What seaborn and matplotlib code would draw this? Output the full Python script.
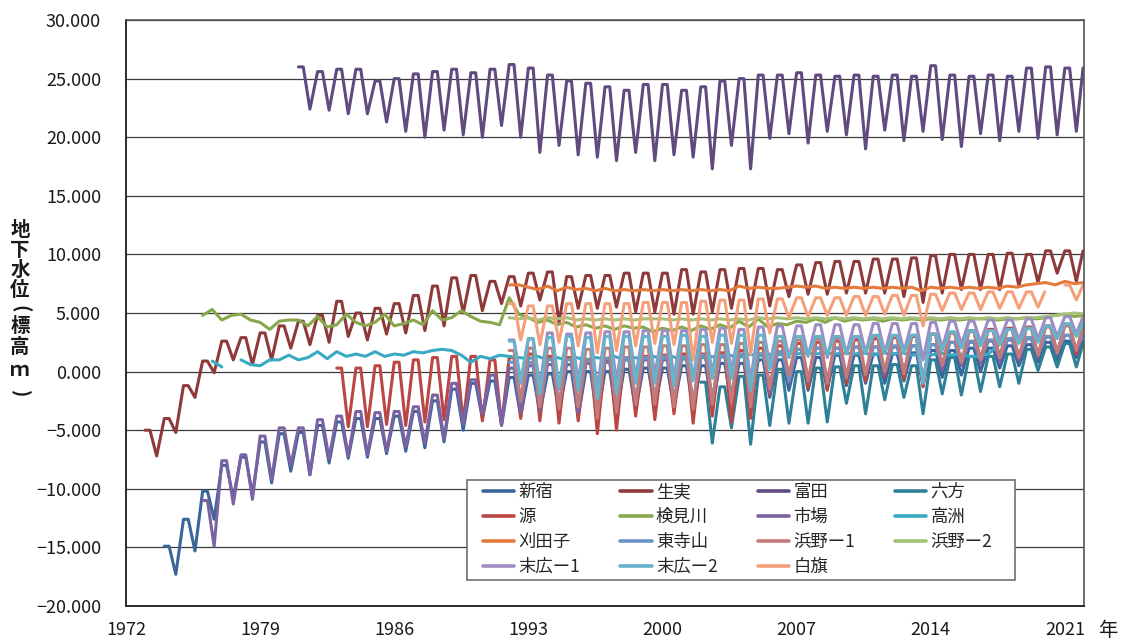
import numpy as np
import pandas as pd
import matplotlib
matplotlib.use("Agg")
import matplotlib.pyplot as plt
import seaborn as sns
from matplotlib.lines import Line2D
from matplotlib.patches import Rectangle

# ---------------- data ----------------
stations = ["新宿", "生実", "富田", "六方", "源", "検見川", "市場", "高洲",
            "刈田子", "東寺山", "浜野ー1", "浜野ー2", "末広ー1", "末広ー2", "白旗"]
colors = ["#3B6699", "#8E3A3A", "#5F4B7F", "#2E8096", "#BA4744", "#86A84B",
          "#7B62A3", "#3AAAC2", "#E47B3C", "#6C93C6", "#C47A78", "#A3C277",
          "#9E8DC3", "#66B3CB", "#F4A07A"]

x_ticks = [1972, 1979, 1986, 1993, 2000, 2007, 2014, 2021]
y_ticks = [-20, -15, -10, -5, 0, 5, 10, 15, 20, 25, 30]

# seasonal wells: first year, annual highs, annual lows
shinjuku_start = 1974
shinjuku_hi = [-14.9, -12.6, -10.2, -8.0, -7.3, -6.0, -5.3, -5.2, -4.6, -4.3, -4.0, -4.0, -3.8, -3.4,
               -2.5, -1.5, -1.0, -0.8, -0.5, -0.3, -0.2, 0.0, 0.0, 0.0, 0.2, 0.3, 0.3, 0.5, 0.5,
               0.7, 0.7, 1.0, 1.0, 1.2, 1.2, 1.4, 1.4, 1.5, 1.5, 1.6, 1.8, 1.8, 2.0, 2.0, 2.2, 2.3, 2.5, 2.6]
shinjuku_lo = [-17.3, -15.3, -12.6, -10.8, -10.5, -9.5, -8.5, -8.8, -7.8, -7.4, -7.3, -7.0, -6.8, -6.5,
               -6.0, -5.0, -4.0, -4.6, -3.8, -3.5, -3.3, -3.8, -4.0, -3.6, -3.2, -3.0, -3.0, -3.2, -3.0,
               -2.6, -3.0, -2.2, -1.6, -1.6, -1.5, -1.2, -1.0, -1.0, -0.8, -1.2, -0.5, -0.3, 0.0, 0.3,
               0.5, 0.8, 1.0, 1.2]

oyumi_start = 1973
oyumi_hi = [-5.0, -4.0, -1.2, 0.9, 2.6, 2.9, 3.3, 3.9, 4.3, 4.8, 6.0, 5.0, 5.4, 5.8, 6.5, 7.3, 8.0,
            8.2, 7.7, 8.1, 8.4, 8.5, 8.1, 8.2, 8.2, 8.4, 8.4, 8.4, 8.7, 8.5, 8.7, 8.8, 8.8, 8.7, 9.1,
            9.3, 9.4, 9.4, 9.6, 9.6, 9.7, 9.9, 10.0, 10.0, 10.0, 10.1, 10.0, 10.3, 10.3]
oyumi_lo = [-7.2, -5.2, -2.2, -0.1, 1.0, 0.6, 1.0, 2.0, 2.3, 2.5, 3.0, 2.7, 3.2, 3.3, 3.5, 3.9, 5.0,
            5.2, 5.8, 5.6, 6.1, 4.2, 5.4, 5.4, 5.5, 5.1, 5.1, 4.9, 4.9, 5.1, 5.4, 5.4, 5.6, 6.4, 6.6,
            6.6, 6.7, 6.7, 6.7, 6.4, 5.9, 6.7, 7.0, 7.0, 7.0, 7.3, 7.6, 8.4, 7.7]

tomita_start = 1981
tomita_hi = [26.0, 25.6, 25.8, 25.8, 24.8, 25.0, 25.4, 25.6, 25.8, 25.5, 25.8, 26.2, 25.9, 25.3,
             24.8, 24.6, 24.3, 24.0, 24.5, 24.5, 24.0, 24.3, 24.8, 25.0, 25.3, 25.3, 25.5, 25.3,
             25.2, 25.3, 25.2, 25.3, 25.2, 26.1, 25.3, 25.2, 25.3, 25.2, 25.9, 26.0, 25.9]
tomita_lo = [22.4, 22.3, 22.0, 22.0, 21.3, 20.5, 20.0, 20.6, 20.2, 20.0, 21.0, 20.0, 18.7, 19.3,
             18.5, 18.3, 18.0, 18.7, 18.0, 18.5, 18.3, 17.3, 19.3, 17.3, 19.9, 20.3, 19.5, 20.5,
             20.2, 19.0, 20.6, 19.7, 20.5, 19.8, 19.2, 20.3, 19.7, 20.5, 19.9, 20.2, 20.5]

roppo_start = 2002
roppo_hi = [-0.9, -1.3, -0.4, -0.3, 0.2, 0.0, 0.3, 0.4, 0.5, 0.5, 0.6, 0.5, 1.0, 1.2, 1.3, 1.3,
            1.5, 1.9, 2.1, 2.4]
roppo_lo = [-6.1, -4.8, -6.2, -4.6, -4.4, -4.4, -4.3, -2.7, -3.6, -2.4, -2.2, -3.6, -1.9, -2.0,
            -1.7, -1.3, -1.0, 0.1, 0.4, 0.4]

minamoto_start = 1983
minamoto_hi = [0.3, 0.3, 0.5, 0.8, 1.0, 1.2, 1.3, 1.3, 1.0, 1.2, 1.5, 1.3, 1.2, 1.0, 1.0, 1.2, 1.3,
               1.4, 1.5, 1.5, 1.6, 1.8, 2.0, 2.2, 2.4, 2.5, 2.6, 2.7, 2.8, 2.9, 3.0, 3.2, 3.3, 3.5,
               3.6, 3.7, 3.8, 3.9, 4.0]
minamoto_lo = [-4.7, -4.7, -4.5, -4.6, -4.3, -4.1, -4.3, -4.2, -4.5, -4.0, -4.2, -4.4, -4.2, -5.3,
               -5.0, -3.8, -4.1, -3.6, -4.4, -3.8, -4.3, -4.0, -2.0, -0.7, -1.4, -1.6, -1.0, -0.8,
               -0.4, -0.6, -1.3, 0.2, 0.6, 1.0, 1.2, 1.0, 1.3, 1.6, 1.5]

ichiba_start = 1976
ichiba_hi = [-11.0, -7.6, -7.1, -5.5, -4.8, -4.8, -4.1, -3.8, -3.4, -3.5, -3.4, -3.0, -2.0, -1.0,
             -0.7, -0.3, 0.3, 0.5, 0.6, 0.6, 0.7, 0.8, 1.0, 1.0, 1.0, 1.1, 1.2, 1.3, 1.4, 1.5, 1.7,
             1.9, 2.0, 2.0, 2.1, 2.1, 2.1, 2.2, 2.3, 2.5, 2.5, 2.6, 2.7, 2.8, 3.0, 3.1]
ichiba_lo = [-14.9, -11.3, -10.9, -9.2, -8.0, -8.8, -7.4, -7.2, -7.1, -6.8, -6.4, -6.1, -5.8, -4.5,
             -3.6, -4.5, -3.5, -3.3, -3.0, -3.5, -3.6, -3.3, -2.8, -2.6, -2.6, -2.8, -2.5, -2.2,
             -2.6, -1.8, -1.0, -0.9, -1.0, -0.6, -0.3, -0.2, -0.1, -0.6, 0.2, 0.5, 0.7, 0.9, 1.0,
             1.2, 1.5, 1.8]

higashiterayama_start = 1992
higashiterayama_hi = [0.8, 0.8, 1.0, 1.0, 1.0, 1.1, 1.2, 1.2, 1.3, 1.3, 1.4, 1.4, 1.5, 1.5, 1.7,
                      1.9, 2.0, 2.0, 2.1, 2.1, 2.2, 2.2, 2.3, 2.5, 2.6, 2.7, 2.8, 2.9, 3.0, 3.1]
higashiterayama_lo = [-2.6, -3.0, -2.8, -3.0, -3.4, -3.0, -2.4, -2.3, -2.5, -2.6, -2.3, -2.0, -2.6,
                      -1.2, -0.8, -0.6, -0.8, -0.4, -0.2, 0.0, 0.1, -0.8, 0.6, 0.8, 1.0, 1.2, 1.3,
                      1.5, 1.8, 2.0]

hamano1_start = 1992
hamano1_hi = [1.8, 2.0, 2.0, 2.0, 1.9, 2.0, 2.1, 2.1, 2.2, 2.2, 2.3, 2.3, 2.4, 2.5, 2.6, 2.7, 2.8,
              2.8, 2.9, 3.0, 3.0, 3.1, 3.2, 3.3, 3.4, 3.5, 3.6, 3.7, 3.8, 3.9]
hamano1_lo = [-2.5, -3.0, -3.2, -3.0, -4.0, -3.5, -2.8, -2.8, -3.0, -3.2, -2.8, -2.6, -3.0, -1.5,
              -0.3, -0.8, -1.0, -0.5, -0.3, 0.0, -0.2, -1.0, 0.5, 0.8, 1.0, 1.2, 1.2, 1.4, 1.6, 1.8]

suehiro1_start = 1992
suehiro1_hi = [2.7, 2.8, 3.3, 3.2, 3.3, 3.4, 3.4, 3.5, 3.5, 3.5, 3.6, 3.7, 3.6, 3.8, 3.9, 3.9, 4.0,
               4.0, 4.0, 4.1, 4.1, 4.1, 4.2, 4.3, 4.3, 4.4, 4.4, 4.5, 4.6, 4.7]
suehiro1_lo = [-0.8, -1.2, -1.5, -0.8, -1.5, -0.8, -0.5, -0.3, -0.5, -0.6, -0.2, 0.0, -0.8, 0.5,
               1.2, 1.3, 1.2, 1.5, 1.6, 1.6, 1.7, 1.0, 2.0, 2.3, 2.5, 2.6, 2.7, 2.8, 3.0, 3.2]

suehiro2_start = 1992
suehiro2_hi = [2.6, 2.8, 2.9, 3.0, 2.9, 3.0, 3.0, 3.0, 3.0, 3.1, 3.0, 3.1, 3.1, 3.1, 3.0, 3.0, 3.0,
               3.0, 3.0, 3.1, 3.1, 3.1, 3.2, 3.4, 3.5, 3.5, 3.6, 3.7, 3.9, 4.1]
suehiro2_lo = [-1.0, -1.9, -1.4, -1.6, -2.3, -1.8, -1.0, -1.0, -1.2, -0.8, -0.6, -0.6, -1.6, 0.2,
               1.2, 1.4, 1.5, 1.6, 1.6, 1.6, 1.6, -1.0, 1.8, 2.0, 2.2, 2.3, 2.4, 2.5, 2.8, 3.0]

shirahata_start = 1992
shirahata_hi = [5.8, 5.6, 5.6, 5.8, 5.8, 5.8, 5.8, 5.9, 5.9, 5.9, 6.0, 6.1, 6.1, 6.2, 6.2, 6.3,
                6.3, 6.3, 6.4, 6.4, 6.5, 6.5, 6.6, 6.7, 6.7, 6.8, 6.8, 6.8]
shirahata_lo = [2.7, 2.3, 2.5, 2.2, 1.6, 1.8, 2.2, 2.4, 2.3, 1.0, 2.5, 2.4, 1.5, 3.3, 4.6, 4.7,
                4.8, 4.8, 4.8, 4.9, 4.8, 3.9, 5.2, 5.3, 5.3, 5.4, 5.4, 5.5]
shirahata2_start = 2021
shirahata2_hi = [7.4]
shirahata2_lo = [6.1]

# slowly varying wells: half-yearly readings (NaN = gap in record)
kemigawa_start = 1976.0
kemigawa_vals = [4.8, 5.3, 4.4, 4.8, 4.9, 4.4, 4.2, 3.6, 4.3, 4.4, 4.4, 3.9, 4.7, 3.8, 4.0, 4.9,
                 4.2, 3.9, 4.2, 4.9, 3.9, 4.1, 4.4, 4.0, 5.2, 4.4, 4.6, 5.2, 4.7, 4.3, 4.2, 4.0,
                 6.3, 4.9, 4.6, 4.2, 4.4, 4.0, 4.2, 3.8, 4.0, 3.7, 3.9, 3.6, 3.9, 3.7, 3.8, 3.4,
                 3.7, 3.5, 3.8, 3.5, 3.9, 3.6, 4.0, 3.7, 4.3, 3.8, 4.5, 3.8, 4.1, 4.0, 4.3, 4.2,
                 4.5, 4.2, 4.6, 4.3, 4.5, 4.4, 4.5, 4.3, 4.5, 4.4, 4.5, 4.4, 4.5, 4.4, 4.5, 4.4,
                 4.5, 4.5, 4.5, 4.4, 4.5, 4.5, 4.6, 4.5, 4.6, 4.8, 4.9, 4.7, 4.8]

takasu_start = 1976.5
takasu_vals = [0.9, 0.4, np.nan, 1.0, 0.6, 0.5, 1.0, 1.0, 1.4, 1.0, 1.2, 1.7, 1.1, 1.7, 1.3, 1.5,
               1.3, 1.7, 1.3, 1.5, 1.4, 1.7, 1.6, 1.8, 1.9, 1.8, 1.4, 0.8, 1.3, 1.1, 1.4, 1.3,
               1.2, 1.1, 1.3, 1.0, 1.2, 1.0, 1.2, 1.0, 1.2, 1.1, 1.3, 1.0, 1.2, 1.1, 1.3, 1.1,
               1.3, 1.0, 1.3, 1.2, 1.3, 1.2, 1.4, 1.2, 1.5, 1.3, 1.5, 1.4, 1.6, 1.5, 1.6, 1.5,
               1.6, 1.5, 1.6, 1.5, 1.6, 1.4, 1.6, 1.5, 1.6, 1.4, 1.5, 1.4, 1.6, 1.4, 1.5, 1.3,
               1.3, 1.5, 2.2, 2.8, 2.9, 2.8, 2.9, 2.9, 3.0]

karitago_start = 1992.0
karitago_vals = [7.4, 7.4, 7.2, 7.0, 7.3, 6.9, 7.2, 7.0, 7.1, 6.9, 7.1, 6.9, 7.0, 6.9, 7.0, 6.9,
                 7.0, 6.9, 7.0, 6.9, 7.0, 6.9, 7.0, 6.9, 7.3, 7.1, 7.2, 7.1, 7.1, 7.2, 7.3, 7.2,
                 7.3, 7.1, 7.2, 7.1, 7.2, 7.1, 7.2, 7.1, 7.2, 7.1, 7.2, 6.9, 7.2, 7.1, 7.2, 7.1,
                 7.2, 7.1, 7.2, 7.1, 7.3, 7.2, 7.4, 7.5, 7.6, 7.4, 7.7, 7.5, 7.6]

hamano2_start = 1992.0
hamano2_vals = [4.6, 4.5, 4.6, 4.4, 4.6, 4.5, 4.6, 4.4, 4.5, 4.4, 4.5, 4.4, 4.5, 4.4, 4.5, 4.5,
                4.5, 4.4, 4.5, 4.4, 4.5, 4.4, 4.5, 4.4, 4.5, 4.4, 4.6, 4.5, 4.6, 4.5, 4.6, 4.5,
                4.6, 4.5, 4.6, 4.5, 4.6, 4.5, 4.6, 4.5, 4.6, 4.5, 4.6, 4.5, 4.6, 4.5, 4.6, 4.5,
                4.6, 4.5, 4.6, 4.5, 4.6, 4.5, 4.6, 4.6, 4.7, 4.8, 4.9, 5.0, 4.9]

# y-axis title, written top to bottom (parentheses turned for vertical writing)
y_title_chars = ["地", "下", "水", "位", "(", "標", "高", "ｍ", ")"]

# timing inside each year: start and end of the high plateau, then the low
SEASON_PHASE = [0.0, 0.25, 0.6]


def seasonal(name, start, hi, lo, seg=0):
    rows = []
    for i, (h, l) in enumerate(zip(hi, lo)):
        yr = start + i
        for ph, val in zip(SEASON_PHASE, (h, h, l)):
            rows.append((name, f"{name}-{seg}", yr + ph, val))
    # record closes on the recovered winter high
    rows.append((name, f"{name}-{seg}", start + len(hi) - 0.05, hi[-1]))
    return rows


def halfyearly(name, start, vals):
    rows, seg = [], 0
    for i, v in enumerate(vals):
        if np.isnan(v):
            seg += 1
            continue
        rows.append((name, f"{name}-{seg}", start + 0.5 * i, v))
    return rows


rows = []
rows += seasonal("新宿", shinjuku_start, shinjuku_hi, shinjuku_lo)
rows += seasonal("生実", oyumi_start, oyumi_hi, oyumi_lo)
rows += seasonal("富田", tomita_start, tomita_hi, tomita_lo)
rows += seasonal("六方", roppo_start, roppo_hi, roppo_lo)
rows += seasonal("源", minamoto_start, minamoto_hi, minamoto_lo)
rows += halfyearly("検見川", kemigawa_start, kemigawa_vals)
rows += seasonal("市場", ichiba_start, ichiba_hi, ichiba_lo)
rows += halfyearly("高洲", takasu_start, takasu_vals)
rows += halfyearly("刈田子", karitago_start, karitago_vals)
rows += seasonal("東寺山", higashiterayama_start, higashiterayama_hi, higashiterayama_lo)
rows += seasonal("浜野ー1", hamano1_start, hamano1_hi, hamano1_lo)
rows += halfyearly("浜野ー2", hamano2_start, hamano2_vals)
rows += seasonal("末広ー1", suehiro1_start, suehiro1_hi, suehiro1_lo)
rows += seasonal("末広ー2", suehiro2_start, suehiro2_hi, suehiro2_lo)
rows += seasonal("白旗", shirahata_start, shirahata_hi, shirahata_lo, seg=0)
rows += seasonal("白旗", shirahata2_start, shirahata2_hi, shirahata2_lo, seg=1)

df = pd.DataFrame(rows, columns=["station", "seg", "t", "level"])

# ---------------- plotting ----------------
sns.set_theme(style="white")
plt.rcParams["font.family"] = ["Noto Sans CJK JP", "DejaVu Sans"]
plt.rcParams["axes.unicode_minus"] = True

W, H = 1128, 641
fig = plt.figure(figsize=(W / 100, H / 100), dpi=100)
ax = fig.add_axes([126 / W, 35 / H, 958 / W, 586 / H])

palette = dict(zip(stations, colors))
sns.lineplot(data=df, x="t", y="level", hue="station", units="seg", estimator=None,
             hue_order=stations, palette=palette, sort=False, lw=2.2, legend=False, ax=ax)
for ln in ax.get_lines():
    ln.set_solid_joinstyle("round")
    ln.set_solid_capstyle("round")

ax.set_xlim(1972, 2022)
ax.set_ylim(-20, 30)
ax.set_xticks(x_ticks)
ax.set_xticklabels([str(v) for v in x_ticks])
ax.set_yticks(y_ticks)
ax.set_yticklabels([f"{v:.3f}".replace("-", "\u2212") for v in y_ticks])
ax.set_xlabel("")
ax.set_ylabel("")
ax.yaxis.grid(True, color="#3a3a3a", lw=0.9)
ax.xaxis.grid(False)
ax.set_axisbelow(True)
for side in ["left", "bottom"]:
    ax.spines[side].set_color("#2a2a2a")
    ax.spines[side].set_linewidth(1.4)
for side in ["top", "right"]:
    ax.spines[side].set_color("#555555")
    ax.spines[side].set_linewidth(1.2)
ax.tick_params(axis="x", direction="in", length=6, width=1, color="#555555",
               labelsize=13, pad=11, labelcolor="#1a1a1a")
ax.tick_params(axis="y", direction="in", length=3, width=1, color="#555555",
               labelsize=13, pad=18, labelcolor="#1a1a1a")

# legend frame (drawn separately to match the reference box)
def px_to_ax(xp, yp):
    return (xp - 126) / 958, (606 - yp) / 586

fx0, fy0 = px_to_ax(467, 580)
fx1, fy1 = px_to_ax(1015, 480)
frame = Rectangle((fx0, fy0), fx1 - fx0, fy1 - fy0, transform=ax.transAxes,
                  facecolor="white", edgecolor="#707070", lw=1.2, zorder=4, clip_on=False)
ax.add_patch(frame)

# legend: row-major layout like the reference
ncol = 4
order = []
for c in range(ncol):
    for r in range(4):
        k = r * ncol + c
        if k < len(stations):
            order.append(k)
handles = [Line2D([0], [0], color=colors[k], lw=2.6) for k in order]
labels = [stations[k] for k in order]
leg = ax.legend(handles, labels, ncol=ncol, loc="upper left",
                bbox_to_anchor=px_to_ax(483, 483),
                borderaxespad=0, borderpad=0, fontsize=12.5, frameon=False,
                handlelength=1.8, handletextpad=0.25, columnspacing=2.3, labelspacing=0.4)
leg.set_zorder(5)

# vertical stacked y-axis title
title_y = [230, 250, 270, 290, 309, 327, 347, 371, 394]
for ch, yp in zip(y_title_chars, title_y):
    rot = -90 if ch in "()" else 0
    fig.text(20 / W, 1 - yp / H, ch, ha="center", va="center", rotation=rot,
             rotation_mode="anchor" if rot == 0 else "default",
             fontsize=14, fontweight="bold", color="#1a1a1a")

fig.text(1108 / W, 1 - 630 / H, "年", ha="center", va="center", fontsize=14, color="#1a1a1a")

fig.savefig("out.png", dpi=100)
